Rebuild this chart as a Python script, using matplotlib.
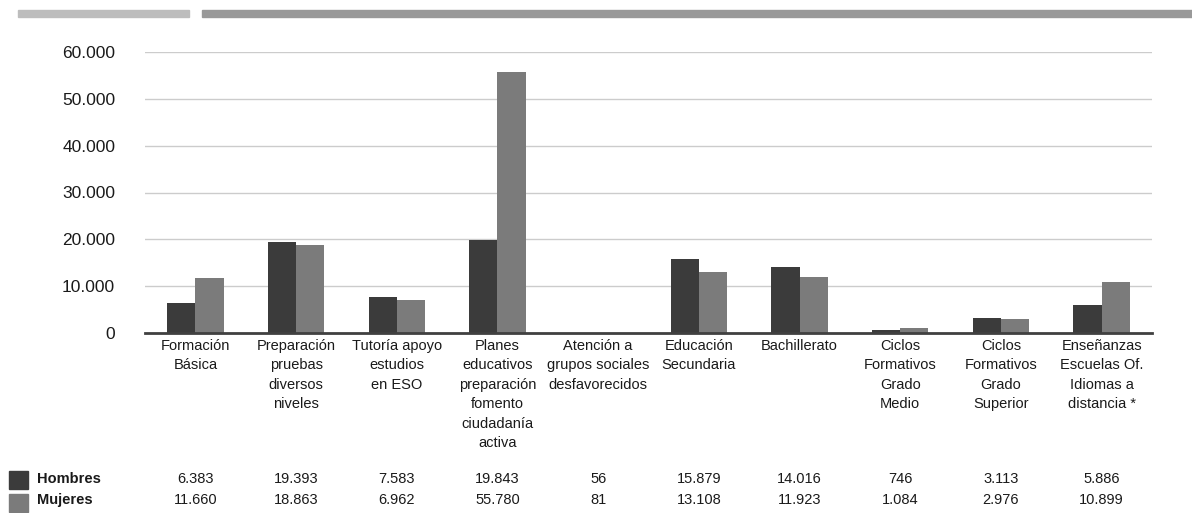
import matplotlib
matplotlib.use("Agg")
import matplotlib.pyplot as plt
from matplotlib import transforms
from matplotlib.patches import Rectangle

plt.rcParams['font.family'] = ['Liberation Sans', 'DejaVu Sans']

categories = [
    "Formación\nBásica",
    "Preparación\npruebas\ndiversos\nniveles",
    "Tutoría apoyo\nestudios\nen ESO",
    "Planes\neducativos\npreparación\nfomento\nciudadanía\nactiva",
    "Atención a\ngrupos sociales\ndesfavorecidos",
    "Educación\nSecundaria",
    "Bachillerato",
    "Ciclos\nFormativos\nGrado\nMedio",
    "Ciclos\nFormativos\nGrado\nSuperior",
    "Enseñanzas\nEscuelas Of.\nIdiomas a\ndistancia *",
]
hombres = [6383, 19393, 7583, 19843, 56, 15879, 14016, 746, 3113, 5886]
mujeres = [11660, 18863, 6962, 55780, 81, 13108, 11923, 1084, 2976, 10899]
hombres_lbl = ["6.383", "19.393", "7.583", "19.843", "56", "15.879", "14.016", "746", "3.113", "5.886"]
mujeres_lbl = ["11.660", "18.863", "6.962", "55.780", "81", "13.108", "11.923", "1.084", "2.976", "10.899"]
yticks = [0, 10000, 20000, 30000, 40000, 50000, 60000]
ytick_lbl = ["0", "10.000", "20.000", "30.000", "40.000", "50.000", "60.000"]
series_names = ["Hombres", "Mujeres"]

c_h = "#3b3b3b"
c_m = "#7b7b7b"
txt = "#1a1a1a"

W, H = 1192, 513
fig = plt.figure(figsize=(W/100, H/100), dpi=100)
ax = fig.add_axes([145/W, (H-333)/H, (1152-145)/W, (333-52)/H])

x = list(range(len(categories)))
bw = 0.28
ax.bar([i - bw/2 for i in x], hombres, width=bw, color=c_h, zorder=3)
ax.bar([i + bw/2 for i in x], mujeres, width=bw, color=c_m, zorder=3)

ax.set_xlim(-0.5, len(categories) - 0.5)
ax.set_ylim(0, 60000)
for s in ['top', 'right', 'left']:
    ax.spines[s].set_visible(False)
ax.spines['bottom'].set_color('#404040')
ax.spines['bottom'].set_linewidth(2)
ax.spines['bottom'].set_zorder(4)
for t in yticks[1:]:
    ax.axhline(t, color='#cccccc', lw=1, zorder=1)

ax.set_yticks(yticks)
ax.set_yticklabels(ytick_lbl, fontsize=12.5, color=txt)
ax.tick_params(axis='y', length=0, pad=21.5)
ax.set_xticks(x)
ax.set_xticklabels(categories, fontsize=10.5, color=txt, linespacing=1.5)
ax.tick_params(axis='x', length=0, pad=4)

# top decorative bars
fig.patches.append(Rectangle((18/W, (H-17)/H), (189-18)/W, 7/H, transform=fig.transFigure,
                             color='#bdbdbd', zorder=0))
fig.patches.append(Rectangle((202/W, (H-17)/H), (W-202)/W, 7/H, transform=fig.transFigure,
                             color='#999999', zorder=0))

# data table
trans = transforms.blended_transform_factory(ax.transData, fig.transFigure)
rows_y = [(H-479)/H, (H-500)/H]
for vals, yy in zip([hombres_lbl, mujeres_lbl], rows_y):
    for i, v in enumerate(vals):
        fig.text(i, yy, v, transform=trans, ha='center', va='center', fontsize=10.5, color=txt)

sq_top = [471, 494]
for name, col, yy, st in zip(series_names, [c_h, c_m], rows_y, sq_top):
    fig.patches.append(Rectangle((9/W, (H-st-18)/H), 19/W, 18/H, transform=fig.transFigure, color=col))
    fig.text(37/W, yy, name, ha='left', va='center', fontsize=10.5, fontweight='bold', color=txt)

fig.savefig("out.png", dpi=100)
